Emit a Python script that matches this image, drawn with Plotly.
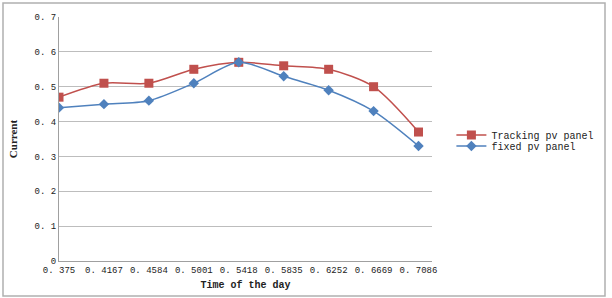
import plotly.graph_objects as go

times = [0.375, 0.4167, 0.4584, 0.5001, 0.5418, 0.5835, 0.6252, 0.6669, 0.7086]
time_labels = ["0. 375", "0. 4167", "0. 4584", "0. 5001", "0. 5418", "0. 5835", "0. 6252", "0. 6669", "0. 7086"]
tracking = [0.47, 0.51, 0.51, 0.55, 0.57, 0.56, 0.55, 0.50, 0.37]
fixed = [0.44, 0.45, 0.46, 0.51, 0.57, 0.53, 0.49, 0.43, 0.33]
y_ticks = [0, 0.1, 0.2, 0.3, 0.4, 0.5, 0.6, 0.7]
y_labels = ["0", "0. 1", "0. 2", "0. 3", "0. 4", "0. 5", "0. 6", "0. 7"]

mono = "Liberation Mono, DejaVu Sans Mono, monospace"
serif = "Liberation Serif, DejaVu Serif, serif"

fig = go.Figure()
fig.add_trace(go.Scatter(
    x=times, y=tracking, name="Tracking pv panel", mode="lines+markers",
    line=dict(color="#C0504D", width=1.5, shape="spline", smoothing=0.8),
    marker=dict(symbol="square", size=9, color="#C0504D"),
    legend="legend", showlegend=True,
))
fig.add_trace(go.Scatter(
    x=times, y=fixed, name="fixed pv panel", mode="lines+markers",
    line=dict(color="#4F81BD", width=1.5, shape="spline", smoothing=0.8),
    marker=dict(symbol="diamond", size=8, color="#4F81BD"),
    legend="legend2", showlegend=True,
))

leg_common = dict(xanchor="left", yanchor="middle",
                  font=dict(family=mono, size=10, color="#222"),
                  itemwidth=30, bgcolor="rgba(0,0,0,0)")

fig.update_layout(
    width=612, height=298,
    showlegend=True,
    margin=dict(l=59, r=180, t=17, b=37, autoexpand=False),
    paper_bgcolor="white", plot_bgcolor="white",
    font=dict(family=mono, size=10, color="#222"),
    legend=dict(x=1.052, y=(261 - 135) / 244, **leg_common),
    legend2=dict(x=1.052, y=(261 - 146) / 244, **leg_common),
    xaxis=dict(
        range=[0.375, 0.7086 + 0.0417 * 0.3],
        tickvals=times, ticktext=time_labels, tickangle=0,
        tickfont=dict(family=mono, size=9),
        showgrid=False, showline=True, linecolor="#A0A0A0", linewidth=1,
        ticks="", zeroline=False, automargin=False,
        title=dict(text="<b>Time of the day</b>", standoff=6,
                   font=dict(family=mono, size=10)),
    ),
    yaxis=dict(
        range=[0, 0.7],
        tickvals=y_ticks, ticktext=y_labels,
        tickfont=dict(family=mono, size=9),
        showgrid=True, gridcolor="#BDBDBD", gridwidth=1,
        showline=True, linecolor="#A0A0A0", linewidth=1,
        ticks="", zeroline=False, automargin=False,
        title=dict(text="<b>Current</b>", standoff=14,
                   font=dict(family=serif, size=11)),
    ),
    shapes=[dict(type="rect", xref="paper", yref="paper",
                 x0=(3 - 59) / 373, x1=(605 - 59) / 373,
                 y0=(261 - 296) / 244, y1=(261 - 3) / 244,
                 line=dict(color="#B0B0B0", width=1.5), fillcolor="rgba(0,0,0,0)",
                 layer="below")],
)

fig.write_html("out.html")
